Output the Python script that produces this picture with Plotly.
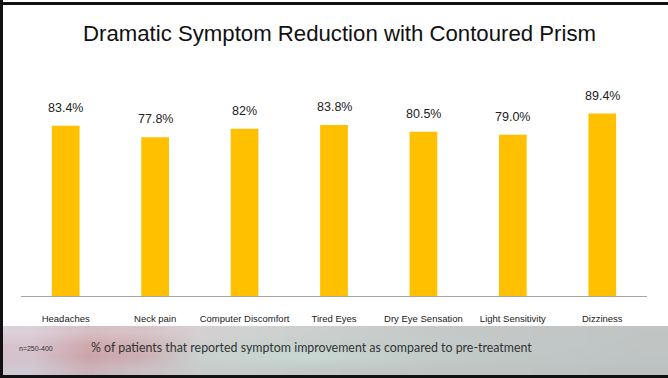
import base64
import struct
import zlib

import plotly.graph_objects as go

# ---- data -------------------------------------------------------------
categories = ["Headaches", "Neck pain", "Computer Discomfort", "Tired Eyes",
              "Dry Eye Sensation", "Light Sensitivity", "Dizziness"]
improvement = [83.4, 77.8, 82.0, 83.8, 80.5, 79.0, 89.4]
value_labels = ["83.4%", "77.8%", "82%", "83.8%", "80.5%", "79.0%", "89.4%"]

title_text = "Dramatic Symptom Reduction with Contoured Prism"
sample_note = "n=250-400"
footnote = "% of patients that reported symptom improvement as compared to pre-treatment"

# ---- canvas geometry (pixels) ----------------------------------------
W, H = 668, 378
ML, MR, MT, MB = 21, 21, 92, 82
PW, PH = W - ML - MR, H - MT - MB


def px_x(px):
    return (px - ML) / PW


def px_y(py):
    return (H - MB - py) / PH


# ---- soft blurred banner behind the footnote --------------------------
banner_rows = [
    ["#dcd0da", "#d6bfc4", "#d8c4c8", "#d6d0d2", "#d0d2d2", "#ccd0cf",
     "#c9cecd", "#c6cbca", "#c4c9c8", "#c3c8c7", "#c2c7c6", "#c1c5c5"],
    ["#d8c4ce", "#cfaaad", "#d0b4b8", "#cfd0cf", "#c8d2cf", "#c6d0cd",
     "#c5cecb", "#c4ccca", "#c3cac8", "#c2c8c7", "#c1c7c6", "#c0c5c4"],
    ["#d4c2cd", "#cca4a8", "#cdb0b4", "#cad2cf", "#c8d6d1", "#c9d9d3",
     "#c6d3ce", "#c3cdca", "#c1cac7", "#c0c8c6", "#bfc6c5", "#bec4c3"],
    ["#d0c8d3", "#cbb4ba", "#cac0c6", "#c8cccc", "#c6cccb", "#c4cac9",
     "#c2c8c7", "#c0c6c5", "#bfc5c4", "#bec4c3", "#bdc3c2", "#bcc2c1"],
]


def png_data_uri(rows):
    h = len(rows)
    w = len(rows[0])
    raw = b""
    for r in rows:
        raw += b"\x00"
        for c in r:
            raw += bytes(int(c[i:i + 2], 16) for i in (1, 3, 5))

    def chunk(tag, data):
        return (struct.pack(">I", len(data)) + tag + data
                + struct.pack(">I", zlib.crc32(tag + data) & 0xFFFFFFFF))

    png = (b"\x89PNG\r\n\x1a\n"
           + chunk(b"IHDR", struct.pack(">IIBBBBB", w, h, 8, 2, 0, 0, 0))
           + chunk(b"IDAT", zlib.compress(raw))
           + chunk(b"IEND", b""))
    return "data:image/png;base64," + base64.b64encode(png).decode()


fig = go.Figure(
    go.Bar(
        x=categories,
        y=improvement,
        width=0.31,
        marker=dict(color="#FFC000", line=dict(width=0)),
        hoverinfo="skip",
    )
)

# value labels above each bar
for cat, val, lab in zip(categories, improvement, value_labels):
    fig.add_annotation(
        x=cat, y=val, text=lab, showarrow=False,
        yanchor="bottom", yshift=9,
        font=dict(family="Liberation Sans, Arial", size=12.5, color="#222222"),
    )

# banner image
fig.add_layout_image(
    source=png_data_uri(banner_rows),
    xref="paper", yref="paper",
    x=px_x(3), y=px_y(326),
    sizex=px_x(668) - px_x(3), sizey=px_y(326) - px_y(375),
    xanchor="left", yanchor="top",
    sizing="stretch", layer="below",
)

fig.add_annotation(
    xref="paper", yref="paper", x=px_x(17), y=px_y(348),
    text=sample_note, showarrow=False, xanchor="left", yanchor="middle",
    font=dict(family="Liberation Sans Narrow, Liberation Sans, Arial", size=7, color="#333333"),
)
fig.add_annotation(
    xref="paper", yref="paper", x=px_x(89), y=px_y(347),
    text=footnote, showarrow=False, xanchor="left", yanchor="middle",
    font=dict(family="Lato, Open Sans, sans-serif", size=12.4, color="#333333"),
)

# frame lines (left, top, bottom)
frame = [
    (0, 0, 3, H),
    (0, 2, W, 5),
    (0, 375, W, H),
]
for x0, y0, x1, y1 in frame:
    fig.add_shape(
        type="rect", xref="paper", yref="paper",
        x0=px_x(x0), x1=px_x(x1), y0=px_y(y1), y1=px_y(y0),
        fillcolor="#111111", line=dict(width=0), layer="above",
    )

fig.update_layout(
    width=W, height=H,
    margin=dict(l=ML, r=MR, t=MT, b=MB),
    paper_bgcolor="white", plot_bgcolor="white",
    showlegend=False,
    title=dict(
        text=title_text, x=339.5 / W, xref="container", xanchor="center",
        y=1 - 33 / H, yref="container", yanchor="middle",
        font=dict(family="Liberation Sans, Arial", size=22.2, color="#111111"),
    ),
    bargap=0.69,
)
fig.update_xaxes(
    showline=True, linecolor="#a6a6a6", linewidth=1,
    ticks="", showgrid=False, ticklabelstandoff=14,
    tickfont=dict(family="Liberation Sans, Arial", size=9.5, color="#222222"),
    fixedrange=True,
)
fig.update_yaxes(range=[0, 100], visible=False, showgrid=False, fixedrange=True)

fig.write_html("out.html")
